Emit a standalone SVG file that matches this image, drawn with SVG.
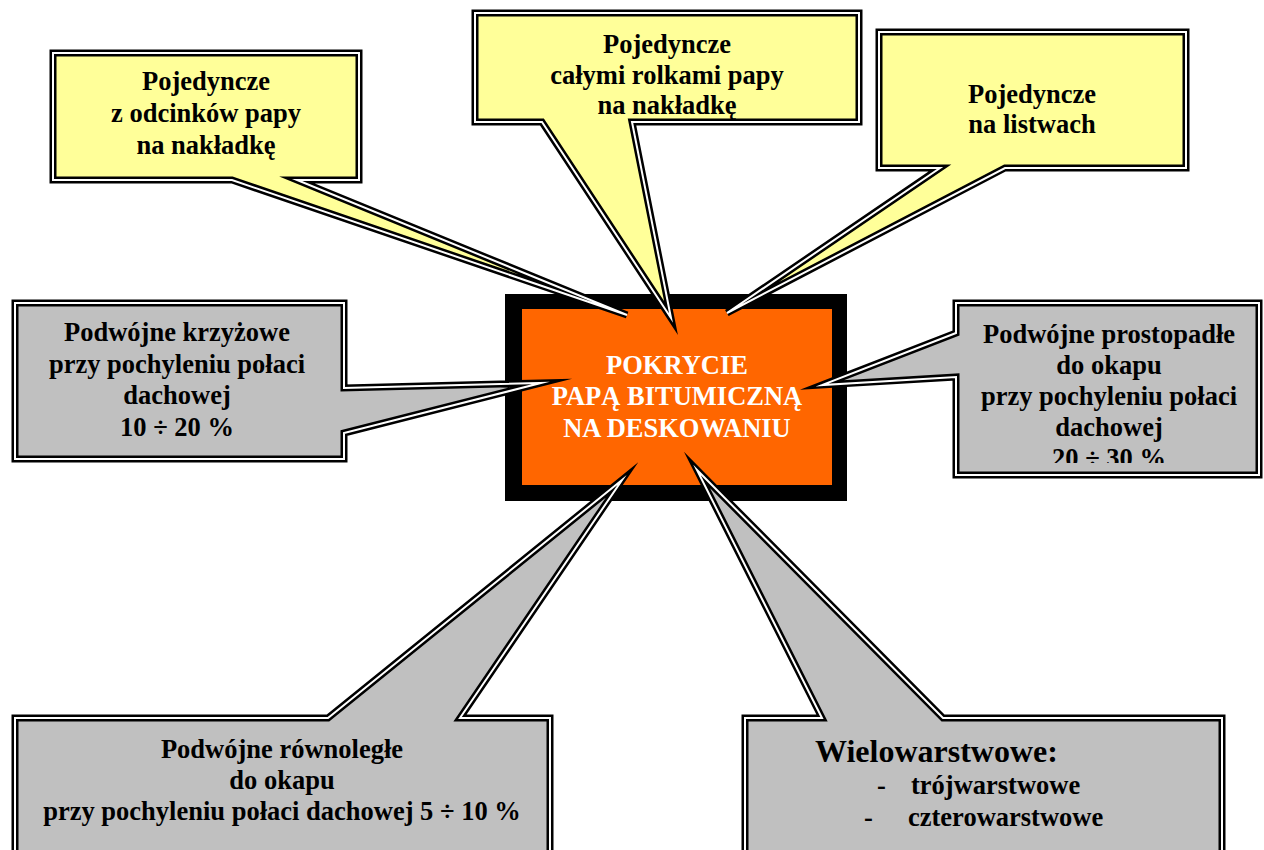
<svg xmlns="http://www.w3.org/2000/svg" width="1264" height="850" viewBox="0 0 1264 850">
  <style>
    .edge { stroke:#000; stroke-width:7; stroke-linejoin:miter; stroke-miterlimit:10; }
    .gap { fill:none; stroke:#fff; stroke-width:2; stroke-linejoin:miter; stroke-miterlimit:10; }
    .yellow { fill:#FFFF99; }
    .gray { fill:#C0C0C0; }
    .t { font-family:"Liberation Serif","Times New Roman",serif; font-weight:bold; font-size:26.5px; fill:#000; text-anchor:middle; }
    .s { text-anchor:start; }
    .c { font-family:"Liberation Serif","Times New Roman",serif; font-weight:bold; font-size:26.5px; fill:#fff; text-anchor:middle; }
  </style>
  <defs>
    <clipPath id="clipRight"><rect x="950" y="300" width="314" height="163"/></clipPath>
  </defs>
  <rect width="1264" height="850" fill="#fff"/>

  <g id="center">
    <rect x="505" y="294" width="342" height="207" fill="#000"/>
    <rect x="522" y="309" width="310" height="176" fill="#FF6600"/>
    <text class="c" x="677" y="374">POKRYCIE</text>
    <text class="c" x="677" y="405">PAPĄ BITUMICZNĄ</text>
    <text class="c" x="677" y="437">NA DESKOWANIU</text>
  </g>

  <g id="connectors"></g>

  <g id="node-top-left">
    <path class="edge yellow" d="M53,53 H359 V180 H297 L627,315 L232,180 H53 Z"/>
    <path class="gap" d="M53,53 H359 V180 H297 L627,315 L232,180 H53 Z"/>
    <text class="t" x="206" y="90">Pojedyncze</text>
    <text class="t" x="206" y="122">z odcinków papy</text>
    <text class="t" x="206" y="154">na nakładkę</text>
  </g>

  <g id="node-top-center">
    <path class="edge yellow" d="M475,13 H859 V122 H632 L671,318 L542,122 H475 Z"/>
    <path class="gap" d="M475,13 H859 V122 H632 L671,318 L542,122 H475 Z"/>
    <text class="t" x="667" y="53">Pojedyncze</text>
    <text class="t" x="667" y="84">całymi rolkami papy</text>
    <text class="t" x="667" y="114">na nakładkę</text>
  </g>

  <g id="node-top-right">
    <path class="edge yellow" d="M879,32 H1186 V168 H1005 L727,313 L940,168 H879 Z"/>
    <path class="gap" d="M879,32 H1186 V168 H1005 L727,313 L940,168 H879 Z"/>
    <text class="t" x="1032" y="103">Pojedyncze</text>
    <text class="t" x="1032" y="133">na listwach</text>
  </g>

  <g id="node-left">
    <path class="edge gray" d="M15,303 H344 V388 L541,383 L344,433 V459 H15 Z"/>
    <path class="gap" d="M15,303 H344 V388 L541,383 L344,433 V459 H15 Z"/>
    <text class="t" x="177" y="341">Podwójne krzyżowe</text>
    <text class="t" x="177" y="373">przy pochyleniu połaci</text>
    <text class="t" x="177" y="404">dachowej</text>
    <text class="t" x="177" y="436">10 ÷ 20 %</text>
  </g>

  <g id="node-right">
    <path class="edge gray" d="M956,303 H1259 V475 H956 V377 L822,385 L956,333 Z"/>
    <path class="gap" d="M956,303 H1259 V475 H956 V377 L822,385 L956,333 Z"/>
    <g clip-path="url(#clipRight)">
      <text class="t" x="1109" y="343">Podwójne prostopadłe</text>
      <text class="t" x="1109" y="374">do okapu</text>
      <text class="t" x="1109" y="405">przy pochyleniu połaci</text>
      <text class="t" x="1109" y="436">dachowej</text>
      <text class="t" x="1109" y="467">20 ÷ 30 %</text>
    </g>
  </g>

  <g id="node-bottom-left">
    <path class="edge gray" d="M15,860 V718 H328 L622,480 L460,718 H550 V860 Z"/>
    <path class="gap" d="M15,860 V718 H328 L622,480 L460,718 H550 V860 Z"/>
    <text class="t" x="282" y="758">Podwójne równoległe</text>
    <text class="t" x="282" y="789">do okapu</text>
    <text class="t" x="282" y="820">przy pochyleniu połaci dachowej 5 ÷ 10 %</text>
  </g>

  <g id="node-bottom-right">
    <path class="edge gray" d="M745,860 V718 H822 L697,470 L943,718 H1222 V860 Z"/>
    <path class="gap" d="M745,860 V718 H822 L697,470 L943,718 H1222 V860 Z"/>
    <text class="t s" x="815" y="762" style="font-size:32px">Wielowarstwowe:</text>
    <text class="t s" x="877" y="794">-</text>
    <text class="t s" x="911" y="794">trójwarstwowe</text>
    <text class="t s" x="864" y="826">-</text>
    <text class="t s" x="908" y="826">czterowarstwowe</text>
  </g>
</svg>
